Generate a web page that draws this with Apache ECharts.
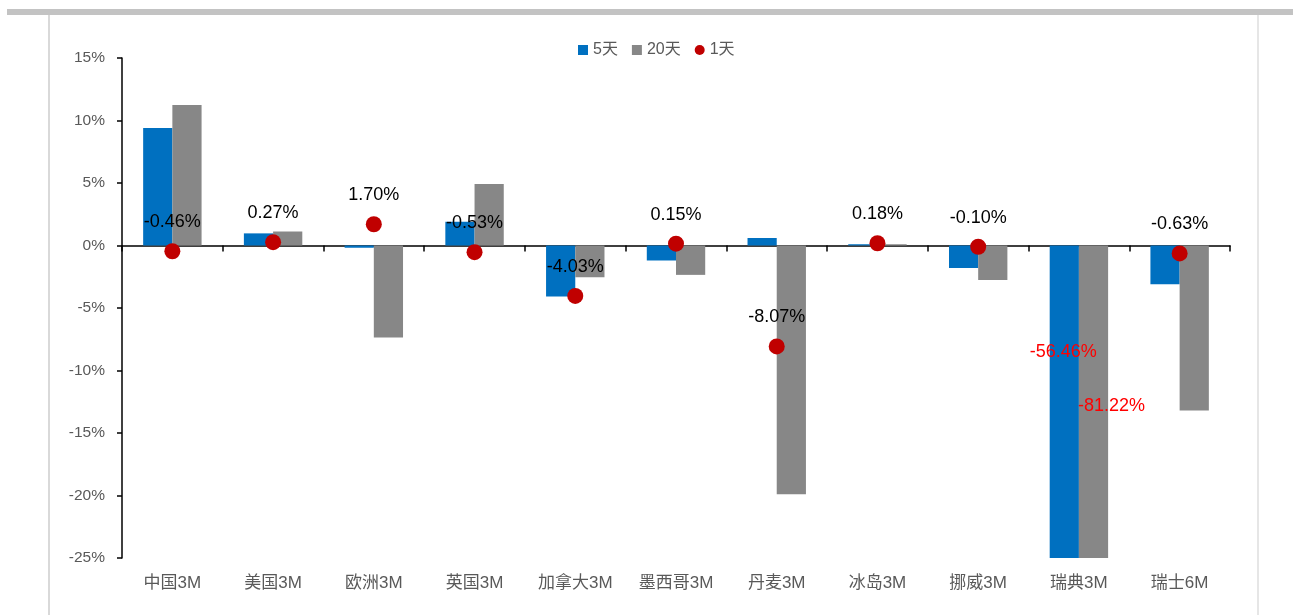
<!DOCTYPE html>
<html>
<head>
<meta charset="utf-8">
<script src="https://cdn.jsdelivr.net/npm/echarts@6/dist/echarts.min.js"></script>
<style>
  html, body { margin: 0; padding: 0; background: #fff; }
  #chart { width: 1293px; height: 615px; }
</style>
</head>
<body>
<div id="chart"></div>
<script>
// 类别
const categories = ['中国3M', '美国3M', '欧洲3M', '英国3M', '加拿大3M', '墨西哥3M', '丹麦3M', '冰岛3M', '挪威3M', '瑞典3M', '瑞士6M']
// 5天 / 20天 / 1天 (单位 %)
const fiveDay = [9.4, 0.97, -0.18, 1.9, -4.08, -1.2, 0.6, 0.1, -1.8, -56.46, -3.1]
const twentyDay = [11.25, 1.12, -7.35, 4.93, -2.53, -2.35, -19.9, 0.1, -2.75, -81.22, -13.2]
const oneDay = [-0.46, 0.27, 1.70, -0.53, -4.03, 0.15, -8.07, 0.18, -0.10, null, -0.63]
const yTicks = { min: -25, max: 15, interval: 5 }

const FONT = "'Liberation Sans', 'Noto Sans CJK SC', sans-serif"
const fmt = v => v.toFixed(2) + '%'

// 超出坐标轴范围的柱子（瑞典）用红字标注真实数值
const clippedIdx = 9
function barData(values, offset) {
    return values.map((v, i) => {
        if (i !== clippedIdx) return v
        return {
            value: v,
            label: {
                show: true,
                position: 'inside',
                offset: offset,
                formatter: p => fmt(p.value),
                color: '#FF0000',
                fontSize: 18,
                fontFamily: FONT
            }
        }
    })
}

const myChart = echarts.init(document.getElementById('chart'))

myChart.setOption({
    animation: false,
    textStyle: { fontFamily: FONT },
    // 外框装饰线
    graphic: [
        { type: 'rect', left: 7, top: 9, shape: { width: 1286, height: 6 }, style: { fill: '#c3c3c3' }, silent: true },
        { type: 'rect', left: 48, top: 15, shape: { width: 2, height: 600 }, style: { fill: '#d9d9d9' }, silent: true },
        { type: 'rect', left: 1257, top: 15, shape: { width: 2, height: 600 }, style: { fill: '#e6e6e6' }, silent: true }
    ],
    legend: {
        top: 37,
        left: 573,
        itemGap: 14,
        itemWidth: 10,
        itemHeight: 10,
        textStyle: { color: '#595959', fontSize: 16, fontFamily: FONT },
        data: [
            { name: '5天', icon: 'rect' },
            { name: '20天', icon: 'rect' },
            { name: '1天', icon: 'circle', itemStyle: { color: '#C00000', opacity: 1 } }
        ]
    },
    grid: { left: 122, right: 63, top: 58, bottom: 57 },
    xAxis: [
        {
            // 0 轴上的轴线与刻度
            type: 'category',
            data: categories,
            axisLine: { onZero: true, lineStyle: { color: '#000', width: 1.5 } },
            axisTick: { show: true, length: 6, inside: false, lineStyle: { color: '#000', width: 1.5 } },
            axisLabel: { show: false }
        },
        {
            // 底部类别标签
            type: 'category',
            data: categories,
            position: 'bottom',
            axisLine: { show: false, onZero: false },
            axisTick: { show: false },
            axisLabel: { color: '#595959', fontSize: 17, margin: 17, fontFamily: FONT }
        }
    ],
    yAxis: {
        type: 'value',
        min: yTicks.min,
        max: yTicks.max,
        interval: yTicks.interval,
        splitLine: { show: false },
        axisLine: { show: true, lineStyle: { color: '#000', width: 1.5 } },
        axisTick: { show: true, length: 5, lineStyle: { color: '#000', width: 1.5 } },
        axisLabel: { color: '#595959', fontSize: 15.5, margin: 17, formatter: '{value}%', fontFamily: FONT }
    },
    series: [
        {
            name: '5天',
            type: 'bar',
            barGap: '0%',
            barCategoryGap: '42%',
            itemStyle: { color: '#0070C0' },
            data: barData(fiveDay, [-1, -50])
        },
        {
            name: '20天',
            type: 'bar',
            itemStyle: { color: '#878787' },
            data: barData(twentyDay, [18, 4])
        },
        {
            name: '1天',
            type: 'scatter',
            symbol: 'circle',
            symbolSize: 16,
            itemStyle: { color: '#C00000', opacity: 1 },
            z: 5,
            label: {
                show: true,
                position: 'top',
                distance: 12,
                color: '#000',
                fontSize: 18,
                fontFamily: FONT,
                formatter: p => fmt(p.value)
            },
            data: oneDay
        }
    ]
})
</script>
</body>
</html>
